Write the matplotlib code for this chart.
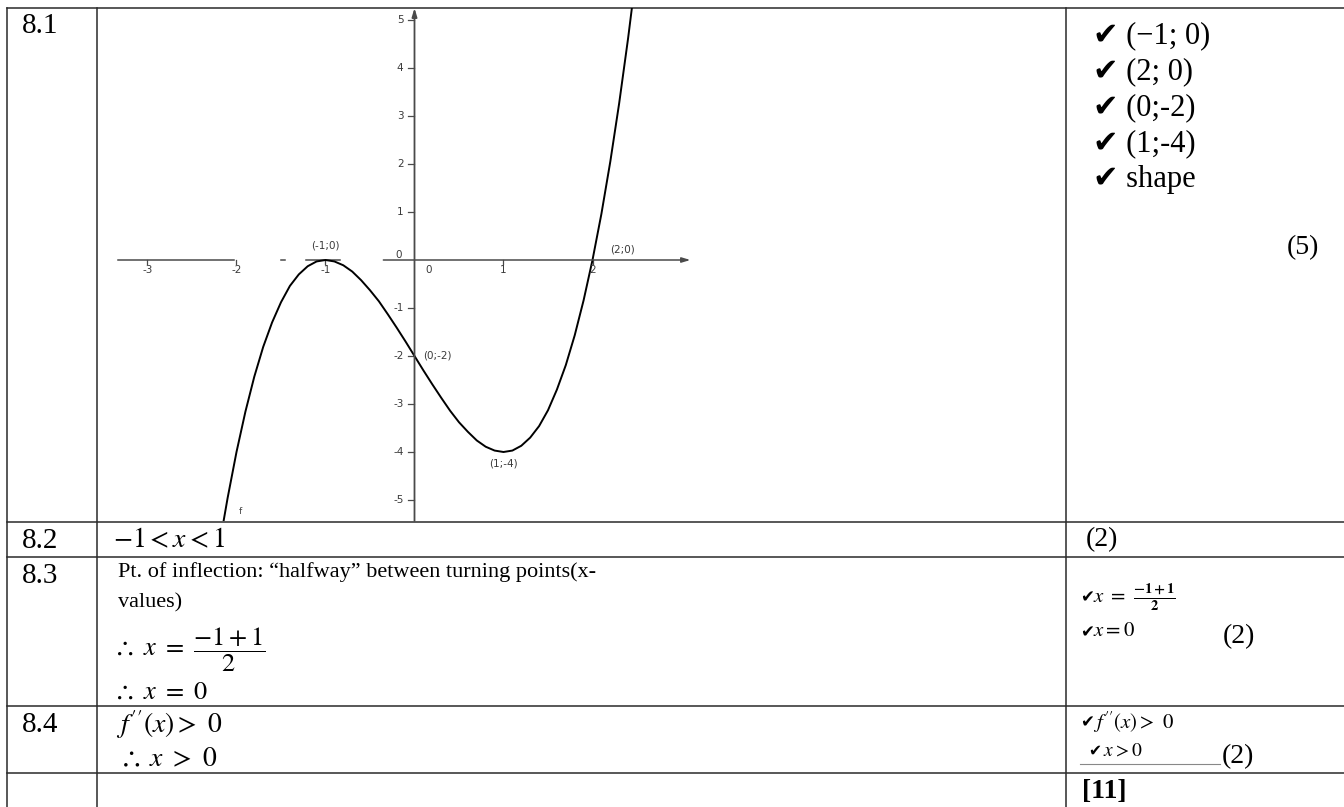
import matplotlib
matplotlib.use("Agg")
import matplotlib.pyplot as plt

plt.rcParams['font.family'] = ['Liberation Serif', 'DejaVu Sans']
plt.rcParams['mathtext.fontset'] = 'stix'

# points along the sketched cubic f
curve_x = [-2.15, -2.1, -2.0, -1.9, -1.8, -1.7, -1.6, -1.5, -1.4, -1.3, -1.2, -1.1,
           -1.0, -0.9, -0.8, -0.7, -0.6, -0.5, -0.4, -0.3, -0.2, -0.1, 0.0,
           0.1, 0.2, 0.3, 0.4, 0.5, 0.6, 0.7, 0.8, 0.9, 1.0, 1.1, 1.2, 1.3,
           1.4, 1.5, 1.6, 1.7, 1.8, 1.9, 2.0, 2.1, 2.2, 2.3, 2.4, 2.45]
curve_y = [-5.49, -4.96, -4.0, -3.16, -2.43, -1.81, -1.3, -0.88, -0.54, -0.3, -0.13, -0.03,
           0.0, -0.03, -0.11, -0.24, -0.42, -0.63, -0.86, -1.13, -1.41, -1.7, -2.0,
           -2.3, -2.59, -2.87, -3.14, -3.38, -3.58, -3.76, -3.89, -3.97, -4.0, -3.97, -3.87, -3.7,
           -3.46, -3.13, -2.7, -2.19, -1.57, -0.84, 0.0, 0.96, 2.05, 3.27, 4.62, 5.36]

# labelled points: intercepts and turning points
point_x = [-1, 2, 0, 1]
point_y = [0, 0, -2, -4]
point_offsets = [(0, 14), (18, 11), (9, 0), (0, -11)]
point_align = ['center', 'left', 'left', 'center']

x_ticks = [-3, -2, -1, 1, 2]
y_ticks = [-5, -4, -3, -2, -1, 1, 2, 3, 4, 5]

question_nums = ["8.1", "8.2", "8.3", "8.4"]
marks_81 = ["(\u22121; 0)", "(2; 0)", "(0;-2)", "(1;-4)", "shape"]

CHECK = "\u2714"

W, H = 1344, 807
fig = plt.figure(figsize=(W / 100, H / 100), dpi=100)
page = fig.add_axes([0, 0, 1, 1])
page.set_xlim(0, W)
page.set_ylim(H, 0)
page.axis('off')


def ticked(x, y, expr, size, check_size=None, gap=14):
    # check mark drawn on its own, the maths next to it
    page.text(x, y, CHECK, fontsize=check_size or size * 0.8, family='DejaVu Sans',
              va='center')
    page.text(x + gap, y, expr, fontsize=size, va='center')


# table grid
line_kw = dict(color='#2a2a2a', lw=1.1)
page.plot([7, W], [8, 8], **line_kw)
for y in [522, 557, 706, 773]:
    page.plot([7, W], [y, y], **line_kw)
for x in [7, 97, 1066]:
    page.plot([x, x], [8, H], **line_kw)

# question numbers
num_y = [26, 541, 576, 725]
for q, y in zip(question_nums, num_y):
    page.text(22, y, q, fontsize=21, va='center')

# ---- graph of f ----
X0, UX, Y0, UY = 414.5, 89.0, 260.0, 48.0
L, R, T, B = 100, 708, 8, 521
g = fig.add_axes([L / W, 1 - B / H, (R - L) / W, (B - T) / H])
g.set_xlim((L - X0) / UX, (R - X0) / UX)
g.set_ylim((Y0 - B) / UY, (Y0 - T) / UY)
g.axis('off')
g.patch.set_alpha(0)

axis_col = '#4a4a4a'
# x axis pieces (left part is broken up in the scan)
for a, b in [(-3.33, -2.03), (-1.50, -1.46), (-1.22, -0.84)]:
    g.plot([a, b], [0, 0], color=axis_col, lw=1.1)
g.annotate('', xy=(3.1, 0), xytext=(-0.35, 0),
           arrowprops=dict(arrowstyle='-|>,head_length=0.5,head_width=0.15',
                           color=axis_col, lw=1.1, shrinkA=0, shrinkB=0))
g.annotate('', xy=(0, (Y0 - T) / UY), xytext=(0, (Y0 - B) / UY),
           arrowprops=dict(arrowstyle='-|>,head_length=0.5,head_width=0.15',
                           color=axis_col, lw=1.3, shrinkA=0, shrinkB=0))

tick_kw = dict(fontsize=7.5, family='DejaVu Sans', color='#3a3a3a',
               textcoords='offset pixels')
for t in x_ticks:
    g.plot([t, t], [0, -0.08], color=axis_col, lw=0.9)
    g.annotate(str(t), (t, 0), xytext=(0, -10), ha='center', va='center', **tick_kw)
for t in y_ticks:
    g.plot([-0.07, 0], [t, t], color=axis_col, lw=0.9)
    g.annotate(str(t), (0, t), xytext=(-11, 0), ha='right', va='center', **tick_kw)
g.annotate('0', (0, 0), xytext=(-16, 5), ha='center', va='center', **tick_kw)
g.annotate('0', (0, 0), xytext=(14, -10), ha='center', va='center', **tick_kw)

g.plot(curve_x, curve_y, color='black', lw=1.4)

for px, py, off, ha in zip(point_x, point_y, point_offsets, point_align):
    g.annotate(f"({px};{py})", (px, py), xytext=off, ha=ha, va='center', **tick_kw)
g.text(-1.96, -5.25, 'f', fontsize=6.5, family='DejaVu Sans', color='#444444',
       ha='center', va='center')

# ---- answers ----
page.text(113, 541, r"$-1 < x < 1$", fontsize=20, va='center')
page.text(118, 572, "Pt. of inflection: \u201chalfway\u201d between turning points(x-",
          fontsize=16, va='center')
page.text(118, 603, "values)", fontsize=16, va='center')
page.text(113, 650, r"$\therefore\ x\ =\ \dfrac{-1+1}{2}$", fontsize=19, va='center')
page.text(113, 693, r"$\therefore\ x\ =\ 0$", fontsize=19, va='center')
page.text(116, 725, r"$f^{\prime\prime}(x) >\ 0$", fontsize=20, va='center')
page.text(118, 760, r"$\therefore\ x\ >\ 0$", fontsize=20, va='center')

# ---- marks column ----
for i, m in enumerate(marks_81):
    page.text(1093, 36 + 36 * i, CHECK + " " + m, fontsize=22, va='center')
page.text(1303, 248, "(5)", fontsize=20, ha='center', va='center')
page.text(1086, 540, "(2)", fontsize=20, va='center')

ticked(1080, 597, r"$x\ =\ \frac{\mathbf{-1+1}}{\mathbf{2}}$", 15, gap=13)
ticked(1080, 632, r"$x = 0$", 15, gap=13)
page.text(1223, 637, "(2)", fontsize=20, va='center')

ticked(1080, 722, r"$f^{\prime\prime}(x) >\ 0$", 15, gap=13)
ticked(1088, 751, r"$x > 0$", 14, gap=15)
page.plot([1080, 1220], [764, 764], color='#888888', lw=0.8)
page.text(1222, 757, "(2)", fontsize=20, va='center')
page.text(1082, 791, "[11]", fontsize=20, fontweight='bold', va='center')

fig.savefig("out.png", dpi=100)
